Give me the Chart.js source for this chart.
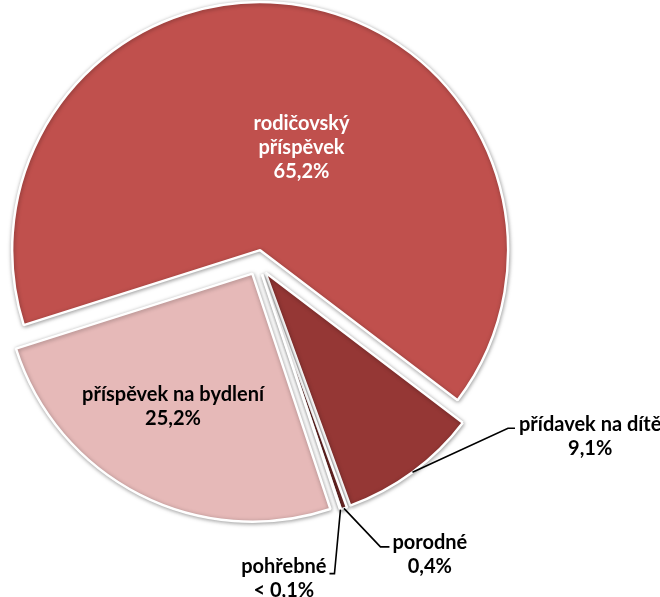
<!DOCTYPE html>
<html>
<head>
<meta charset="utf-8">
<script src="https://cdn.jsdelivr.net/npm/chart.js@4.4.0/dist/chart.umd.min.js"></script>
<style>
html, body { margin: 0; padding: 0; background: #ffffff; }
#wrap { width: 660px; height: 597px; position: relative; }
</style>
</head>
<body>
<div id="wrap"><canvas id="c" width="660" height="597"></canvas></div>
<script>
// ---- data ----
const categories = ['rodičovský příspěvek', 'přídavek na dítě', 'porodné', 'pohřebné', 'příspěvek na bydlení'];
const labelLines = [['rodičovský', 'příspěvek'], ['přídavek na dítě'], ['porodné'], ['pohřebné'], ['příspěvek na bydlení']];
const shares = [65.2, 9.1, 0.4, 0.05, 25.2];
const shareLabels = ['65,2%', '9,1%', '0,4%', '< 0,1%', '25,2%'];

// ---- style ----
const sliceColors = ['#C0504D', '#953735', '#7A2C2A', '#632523', '#E6B9B8'];
const EXPLODE = 12.5;

const explodePlugin = {
  id: 'explodeSlices',
  beforeDatasetDraw(chart, args, opts) {
    args.meta.data.forEach(arc => {
      if (arc._exploded) return;
      const orig = arc.draw;
      arc.draw = function (ctx, area) {
        const mid = (this.startAngle + this.endAngle) / 2;
        ctx.save();
        ctx.translate(Math.cos(mid) * opts.distance, Math.sin(mid) * opts.distance);
        ctx.shadowColor = 'rgba(0,0,0,0.35)';
        ctx.shadowBlur = 4;
        ctx.shadowOffsetX = 0.5;
        ctx.shadowOffsetY = 1;
        orig.call(this, ctx, area);
        ctx.restore();
      };
      arc._exploded = true;
    });
  }
};

const labelPlugin = {
  id: 'sliceLabels',
  afterDatasetsDraw(chart, args, opts) {
    const ctx = chart.ctx;
    const meta = chart.getDatasetMeta(0);
    const d = opts.explode;
    meta.data.forEach((arc, i) => {
      const lay = opts.layout[i];
      const mid = (arc.startAngle + arc.endAngle) / 2;
      const cx = arc.x + Math.cos(mid) * d;
      const cy = arc.y + Math.sin(mid) * d;
      const R = arc.outerRadius;
      const lines = [...labelLines[i], shareLabels[i]];
      ctx.save();
      ctx.font = opts.font;
      ctx.fillStyle = lay.color;
      ctx.textBaseline = 'middle';
      ctx.textAlign = 'center';
      if (lay.type === 'inside') {
        const a = mid + lay.da * Math.PI / 180;
        const x = cx + Math.cos(a) * lay.r * R;
        const y = cy + Math.sin(a) * lay.r * R;
        const y0 = y - (lines.length - 1) * opts.lineHeight / 2;
        lines.forEach((t, k) => ctx.fillText(t, x, y0 + k * opts.lineHeight));
      } else {
        const ax = cx + Math.cos(mid) * R;
        const ay = cy + Math.sin(mid) * R;
        const ex = ax + lay.elbow[0];
        const ey = ay + lay.elbow[1];
        const hx = ex + lay.hook;
        ctx.strokeStyle = '#000000';
        ctx.lineWidth = 1.6;
        ctx.beginPath();
        ctx.moveTo(ax, ay);
        ctx.lineTo(ex, ey);
        ctx.lineTo(hx, ey);
        ctx.stroke();
        const w = Math.max(...lines.map(t => ctx.measureText(t).width));
        const bx = lay.hook > 0 ? hx + lay.gap + w / 2 : hx - lay.gap - w / 2;
        lines.forEach((t, k) => ctx.fillText(t, bx, ey + lay.dy + k * opts.lineHeight));
      }
      ctx.restore();
    });
  }
};

new Chart(document.getElementById('c'), {
  type: 'pie',
  data: {
    labels: categories,
    datasets: [{
      data: shares,
      backgroundColor: sliceColors,
      borderColor: '#ffffff',
      borderWidth: 2.5
    }]
  },
  options: {
    responsive: false,
    animation: false,
    rotation: 252.4,
    radius: 248,
    layout: { padding: { left: 0, right: 144, top: 0, bottom: 72 } },
    plugins: {
      legend: { display: false },
      tooltip: { enabled: false },
      explodeSlices: { distance: EXPLODE },
      sliceLabels: {
        explode: EXPLODE,
        font: 'bold 20px Lato',
        lineHeight: 24,
        layout: [
          { type: 'inside', r: 0.445, da: 12.2, color: '#ffffff' },
          { type: 'outside', elbow: [95.5, -44], hook: 7, gap: 4, dy: -4, color: '#000000' },
          { type: 'outside', elbow: [36.5, 38.5], hook: 9, gap: 3, dy: -4, color: '#000000' },
          { type: 'outside', elbow: [-6, 64], hook: -5, gap: 3, dy: -7, color: '#000000' },
          { type: 'inside', r: 0.624, da: 3.8, color: '#000000' }
        ]
      }
    }
  },
  plugins: [explodePlugin, labelPlugin]
});
</script>
</body>
</html>
